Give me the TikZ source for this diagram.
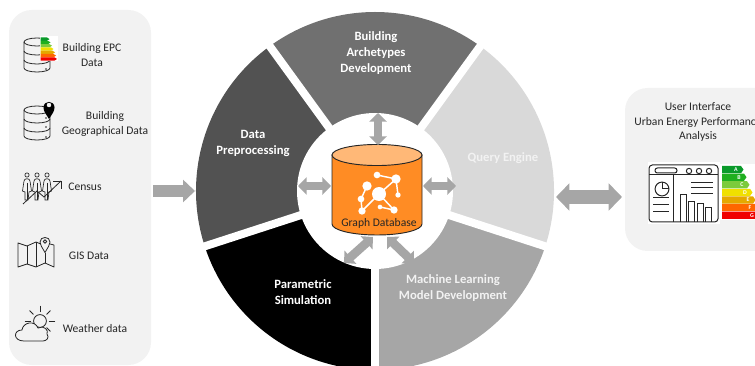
\documentclass[tikz,border=0pt]{standalone}
\usepackage{fontspec}
\setmainfont{Carlito}
\usetikzlibrary{arrows.meta,calc}
\definecolor{panelgray}{HTML}{F2F2F2}
\definecolor{arrowgray}{HTML}{A6A6A6}
\definecolor{dbo}{HTML}{FF8C24}
\definecolor{dbt}{HTML}{FFB877}
\definecolor{epcA}{HTML}{0A9A2A}
\definecolor{epcB}{HTML}{1FAF1F}
\definecolor{epcC}{HTML}{7CCB3C}
\definecolor{epcD}{HTML}{F0E000}
\definecolor{epcE}{HTML}{E5A800}
\definecolor{epcF}{HTML}{FF6600}
\definecolor{epcG}{HTML}{F00000}
\tikzset{
  x=0.75pt,y=-0.75pt,
  panel/.style={fill=panelgray,rounded corners=17pt},
  txt/.style={font=\fontsize{8.7pt}{10.7pt}\selectfont,align=center,text=black!85,inner sep=0pt},
  seclabel/.style={font=\fontsize{9.5pt}{12pt}\selectfont\bfseries,align=center,text=white,inner sep=0pt},
  icon/.style={line width=0.6pt,draw=black!85},
  bigtwo/.style={draw=arrowgray,line width=10.5pt,{Triangle[length=10pt,width=20pt]}-{Triangle[length=10pt,width=20pt]}},
  bigone/.style={draw=arrowgray,line width=8.5pt,-{Triangle[length=9pt,width=16.5pt]}},
  smalltwo/.style={draw=arrowgray,line width=6.5pt,{Triangle[length=6.5pt,width=13pt]}-{Triangle[length=6.5pt,width=13pt]}},
  gapline/.style={draw=white,line width=6pt},
  gnode/.style={circle,fill=white,inner sep=0pt},
  gedge/.style={draw=white,line width=1.1pt}
}
% database icon: #1 left x, #2 top y
\newcommand{\dbicon}[2]{%
  \begin{scope}[shift={(#1,#2)},icon]
    \draw (0,4) -- (0,30) arc[start angle=180,end angle=360,x radius=9.75pt,y radius=3pt] -- (26,4);
    \draw (13,4) ellipse[x radius=9.75pt,y radius=3pt];
    \draw (0,13) arc[start angle=180,end angle=360,x radius=9.75pt,y radius=3pt];
    \draw (0,22) arc[start angle=180,end angle=360,x radius=9.75pt,y radius=3pt];
    \fill[black!85] (22,12) circle (0.7pt) (22,21) circle (0.7pt) (22,31) circle (0.7pt);
  \end{scope}}
% energy label bar: #1 colour, #2 x start, #3 x end, #4 y top, #5 height, #6 letter
\newcommand{\epcbar}[6]{%
  \fill[#1] (#2,#4) -- (#3,#4) -- ($(#3,#4)+(2.5,#5/2)$) -- (#3,#4+#5) -- (#2,#4+#5) -- cycle;
  \node[text=white,font=\fontsize{4.4pt}{5pt}\selectfont\bfseries,inner sep=0pt] at (#3-5,#4+#5/2) {#6};}
% person icon
\newcommand{\person}[1]{%
  \begin{scope}[shift={(#1,175)},icon,line width=0.5pt]
    \draw (0,0) circle (1.6pt);
    \draw (-3,6) .. controls (-3,3) and (3,3) .. (3,6) -- (4.5,16) -- (2,17) -- (1,25) -- (-2,25) -- (-2,17) -- (-4.5,16) -- cycle;
    \draw (0,8) -- (0,25);
  \end{scope}}
\begin{document}
\begin{tikzpicture}
\useasboundingbox (0,0) rectangle (755,366);
\clip (0,0) rectangle (755,366);
% panels
\fill[panel] (9,10) rectangle (151,365);
\fill[panel] (625,88) rectangle (790,251);
% ring
\coordinate (c) at (375,191);
\fill[fill={rgb,255:red,112;green,112;blue,112}] (c) -- ++(126:134.25pt) arc[start angle=126,end angle=54,radius=134.25pt] -- cycle;
\fill[fill={rgb,255:red,217;green,217;blue,217}] (c) -- ++(54:134.25pt) arc[start angle=54,end angle=-18,radius=134.25pt] -- cycle;
\fill[fill={rgb,255:red,166;green,166;blue,166}] (c) -- ++(-18:134.25pt) arc[start angle=-18,end angle=-90,radius=134.25pt] -- cycle;
\fill[black] (c) -- ++(-90:134.25pt) arc[start angle=-90,end angle=-162,radius=134.25pt] -- cycle;
\fill[fill={rgb,255:red,82;green,82;blue,82}] (c) -- ++(198:134.25pt) arc[start angle=198,end angle=126,radius=134.25pt] -- cycle;
\foreach \a in {198,126,54,-18,-90}
  \draw[gapline] (c) -- ++(\a:142pt);
\fill[white] (c) circle (58.5pt);
% sector labels
\node[seclabel] (s1) at (253,143) {Data\\Preprocessing};
\node[seclabel] (s2) at (376,53) {Building\\Archetypes\\Development};
\node[seclabel,text=panelgray] (s3) at (503,158) {Query Engine};
\node[seclabel] (s4) at (303,292.5) {Parametric\\Simulation};
\node[seclabel,text=panelgray] (s5) at (453,288.5) {Machine Learning\\Model Development};
% database cylinder
\fill[dbo,draw=black!85,line width=0.7pt] (332,155) -- (332,224) arc[start angle=180,end angle=360,x radius=33.75pt,y radius=8.25pt] -- (422,155) -- cycle;
\fill[dbt,draw=black!85,line width=0.7pt] (377,155) ellipse[x radius=33.75pt,y radius=7.9pt];
\node[font=\fontsize{8.7pt}{10pt}\selectfont,text=black!85,inner sep=0pt] (db) at (379,223) {Graph Database};
% graph icon
\coordinate (g0) at (379,194);
\coordinate (g1) at (396,179);
\coordinate (g2) at (377,175);
\coordinate (g3) at (367,186);
\coordinate (g4) at (361,199);
\coordinate (g5) at (362,211);
\coordinate (g6) at (394,210);
\coordinate (g7) at (380,207);
\coordinate (g8) at (398,195);
\draw[gedge] (g2)--(g1) (g1)--(g0) (g1)--(g8) (g3)--(g4) (g4)--(g5) (g5)--(g0) (g0)--(g6) (g7)--(g6);
\node[gnode,minimum size=10.5pt] at (g0) {};
\node[gnode,minimum size=7pt] at (g1) {};
\node[gnode,minimum size=5pt] at (g2) {};
\node[gnode,minimum size=7pt] at (g3) {};
\node[gnode,minimum size=5pt] at (g4) {};
\node[gnode,minimum size=5.5pt] at (g5) {};
\node[gnode,minimum size=5.5pt] at (g6) {};
\node[gnode,minimum size=3.5pt] at (g7) {};
\node[gnode,minimum size=4pt] at (g8) {};
% arrows
\coordinate (a1) at (153,191); \coordinate (a2) at (195,191);
\draw[bigone] (a1) -- (a2);
\coordinate (b1) at (556,197); \coordinate (b2) at (622,197);
\draw[bigtwo] (b1) -- (b2);
\coordinate (t1) at (378,113); \coordinate (t2) at (378,145);
\draw[smalltwo] (t1) -- (t2);
\coordinate (l1) at (298,186); \coordinate (l2) at (331,186);
\draw[smalltwo] (l1) -- (l2);
\coordinate (r1) at (423,186); \coordinate (r2) at (456,186);
\draw[smalltwo] (r1) -- (r2);
\coordinate (d1) at (344,263); \coordinate (d2) at (373,237);
\draw[smalltwo] (d1) -- (d2);
\coordinate (e1) at (387,237); \coordinate (e2) at (414,263);
\draw[smalltwo] (e1) -- (e2);
% left texts
\node[txt] (t-epc) at (92,55) {Building EPC\\Data};
\node[txt] (t-geo) at (105,124) {Building\\Geographical Data};
\node[txt] (t-cen) at (85,187) {Census};
\node[txt] (t-gis) at (89,256) {GIS Data};
\node[txt] (t-wea) at (95,329) {Weather data};
\node[txt] (t-ui) at (698,122) {User Interface\\Urban Energy Performance\\Analysis};
% EPC db icon
\dbicon{24}{38}
\fill[white] (40,36) rectangle (58,61);
\epcbar{epcA}{40.5}{47}{37.5}{3.3}{}
\epcbar{epcB}{40.5}{48}{40.8}{3.3}{}
\epcbar{epcC}{40.5}{49.5}{44.1}{3.3}{}
\epcbar{epcD}{40.5}{51}{47.4}{3.3}{}
\epcbar{epcE}{40.5}{52.5}{50.7}{3.3}{}
\epcbar{epcF}{40.5}{53.5}{54}{3.3}{}
\epcbar{epcG}{40.5}{54.5}{57.3}{3.3}{}
% geo db icon
\dbicon{24}{106}
\fill[black,even odd rule] (49,119) .. controls (46,114) and (43.5,111.5) .. (43.5,107.5) .. controls (43.5,100) and (54.5,100) .. (54.5,107.5) .. controls (54.5,111.5) and (52,114) .. (49,119) -- cycle (49,105) circle (1.8pt);
% census icon
\person{27}\person{37}\person{47}
\draw[icon,line join=miter] (23,204) -- (37,191) -- (44,197) -- (61,181);
\draw[icon] (53,181) -- (61,181) -- (61,189);
% GIS icon
\begin{scope}[icon,line join=round]
\draw (43,245) -- (36,242) -- (27,246) -- (18,243) -- (18,267) -- (27,264) -- (36,267) -- (45,263) -- (54,267) -- (54,245) -- (50,244);
\draw (27,246) -- (27,264) (36,242) -- (36,267) (45,253) -- (45,263);
\draw[fill=panelgray] (45,252.5) .. controls (42,247) and (40,245) .. (40,242) .. controls (40,236) and (50,236) .. (50,242) .. controls (50,245) and (48,247) .. (45,252.5) -- cycle;
\draw (45,241.5) circle (1.3pt);
\end{scope}
% weather icon
\begin{scope}[icon,line cap=round]
\draw (40,321) circle (4.8pt);
\foreach \a in {0,45,90,135,180,-45}
  \draw (40,321) ++(\a:7pt) -- ++(\a:4pt);
\draw[fill=panelgray] (24,341) .. controls (13,341) and (13,330) .. (22,330) .. controls (23,322) and (35,320) .. (38,328) .. controls (44,325) and (49,330) .. (47,334) .. controls (50,338) and (46,341) .. (43,341) -- cycle;
\end{scope}
% dashboard icon
\fill[white] (648,162) rectangle (720,224);
\begin{scope}[icon,line width=0.75pt]
\draw[rounded corners=2.5pt] (649,165) rectangle (718,222);
\draw (649,175) -- (718,175);
\draw[rounded corners=1.8pt] (655,168) rectangle (677,173);
\draw (689,171) circle (2pt) (699,171) circle (2pt) (709,171) circle (2pt);
\draw (673,175) -- (673,222);
\draw (662,189) circle (5.2pt);
\draw (662,189) -- (662,182) (662,189) -- (669,189);
\draw (653,198) -- (669,198) (653,205) -- (669,205) (653,212) -- (669,212);
\draw (691,183) -- (713,183) (691,188) -- (713,188) (691,194) -- (713,194);
\draw (680,222) -- (680,195) -- (686,195) -- (686,222);
\draw (688,222) -- (688,202) -- (694,202) -- (694,222);
\draw (697,222) -- (697,204) -- (703,204) -- (703,222);
\draw (705,222) -- (705,208) -- (711,208) -- (711,222);
\end{scope}
% energy label
\fill[white] (720,164) rectangle (755,220);
\epcbar{epcA}{722}{741}{166}{7.2}{A}
\epcbar{epcB}{722}{744}{173.6}{7.2}{B}
\epcbar{epcC}{722}{747}{181.2}{7.2}{C}
\epcbar{epcD}{722}{750}{188.8}{7.2}{D}
\epcbar{epcE}{722}{753}{196.4}{7.2}{E}
\epcbar{epcF}{722}{755}{204}{7.2}{F}
\epcbar{epcG}{722}{757}{211.6}{7.2}{G}
\end{tikzpicture}
\end{document}
